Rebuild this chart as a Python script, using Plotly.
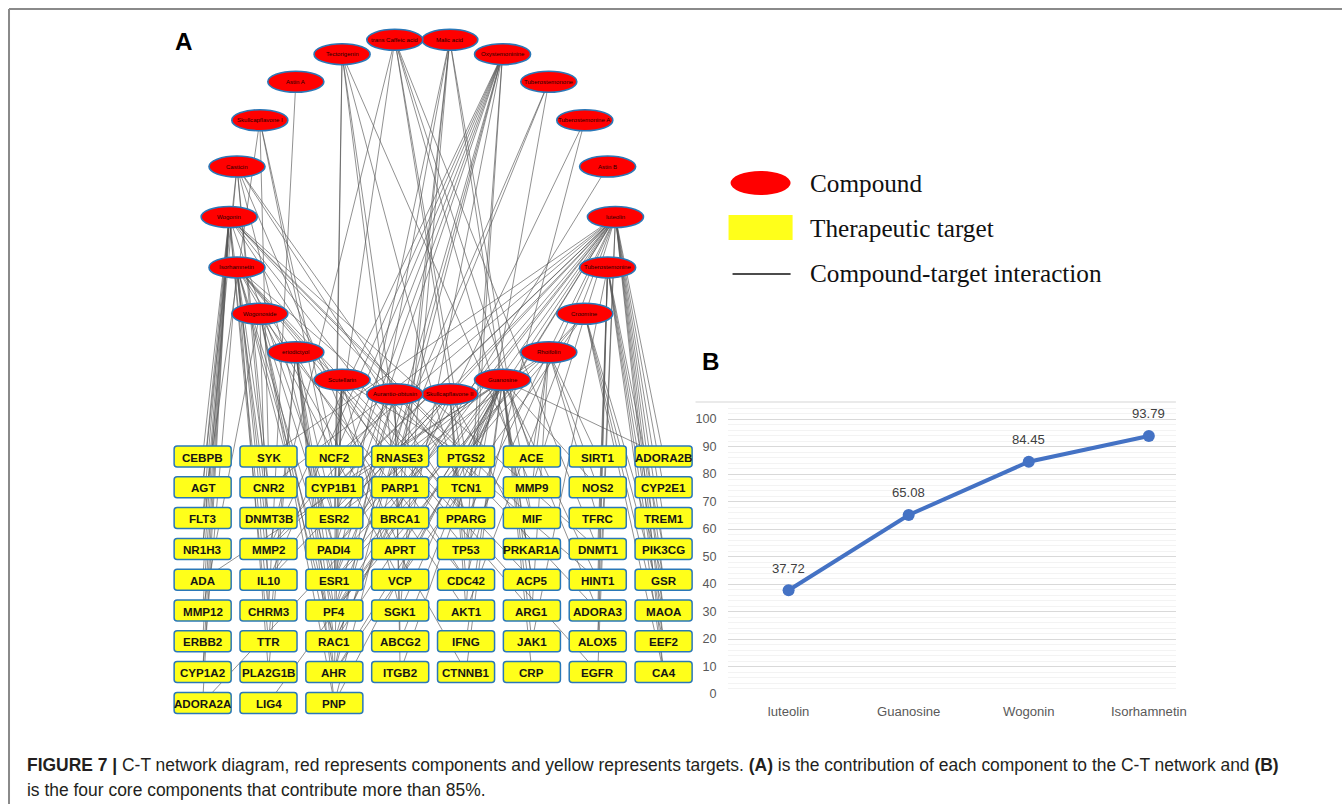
import math
import plotly.graph_objects as go

# ---------------- data ----------------
# Compounds, clockwise around the ring starting just right of the top
compounds = [
    "Malic acid", "Oxystemoninine", "Tuberostemonone", "Tuberostemonine A",
    "Astin B", "luteolin", "Tuberostemonine", "Croomine", "Rhoifolin",
    "Guanosine", "Skullcapflavone II", "Aurantio-obtusin", "Scutellarin",
    "eriodictyol", "Wogonoside", "Isorhamnetin", "Wogonin", "Casticin",
    "Skullcapflavone I", "Astin A", "Tectorigenin", "trans Caffeic acid",
]

# Therapeutic targets, row by row
targets = [
    "CEBPB", "SYK", "NCF2", "RNASE3", "PTGS2", "ACE", "SIRT1", "ADORA2B",
    "AGT", "CNR2", "CYP1B1", "PARP1", "TCN1", "MMP9", "NOS2", "CYP2E1",
    "FLT3", "DNMT3B", "ESR2", "BRCA1", "PPARG", "MIF", "TFRC", "TREM1",
    "NR1H3", "MMP2", "PADI4", "APRT", "TP53", "PRKAR1A", "DNMT1", "PIK3CG",
    "ADA", "IL10", "ESR1", "VCP", "CDC42", "ACP5", "HINT1", "GSR",
    "MMP12", "CHRM3", "PF4", "SGK1", "AKT1", "ARG1", "ADORA3", "MAOA",
    "ERBB2", "TTR", "RAC1", "ABCG2", "IFNG", "JAK1", "ALOX5", "EEF2",
    "CYP1A2", "PLA2G1B", "AHR", "ITGB2", "CTNNB1", "CRP", "EGFR", "CA4",
    "ADORA2A", "LIG4", "PNP",
]

# Targets linked to each compound (same order as `compounds`)
compound_targets = [
    "PARP1 BRCA1 MIF ACP5 SGK1 ESR1 AHR",
    "NCF2 CYP1B1 ESR2 PADI4 RAC1 AHR PNP MMP2 IL10 VCP TP53 AKT1",
    "ESR1 PF4 TP53",
    "CDC42 RAC1",
    "PF4",
    "SYK NCF2 CYP1B1 ESR2 PADI4 ESR1 PF4 RAC1 AHR PTGS2 PPARG TP53 AKT1 EGFR "
    "CA4 EEF2 ALOX5 MAOA GSR PIK3CG TREM1 CYP2E1 ADORA2B MMP9 PARP1 MMP2 IL10 CNR2",
    "ADORA3 HINT1 DNMT1 JAK1 ALOX5 GSR MAOA EEF2 CA4 PIK3CG",
    "MAOA EEF2 CA4 GSR ESR1 PF4 AHR",
    "ACE MMP9 SIRT1 NOS2 TFRC ARG1 CYP1B1 ESR2",
    "RNASE3 PTGS2 TCN1 APRT ADA PNP ACP5 ARG1 JAK1 CRP ITGB2 CTNNB1 IFNG ABCG2 "
    "SGK1 VCP HINT1 ADORA3 ADORA2A ADORA2B LIG4 NOS2",
    "PRKAR1A CDC42 TP53 AKT1 ESR2 PADI4 RAC1",
    "MMP2 IL10 ABCG2 ITGB2 ESR1 PF4",
    "CYP1B1 ESR1 PF4 SGK1 AHR NCF2 PTGS2",
    "TTR PLA2G1B RAC1 ESR2 ESR1 PF4 AHR PNP",
    "CHRM3 MMP12 PADI4 AHR PNP RAC1 VCP CDC42",
    "CNR2 MMP2 IL10 ESR1 PF4 RAC1 CYP1A2 PLA2G1B TP53 EGFR AKT1 CTNNB1 ACP5 "
    "HINT1 ARG1",
    "CEBPB AGT FLT3 NR1H3 ADA MMP12 ERBB2 CYP1A2 ADORA2A DNMT3B CHRM3 TTR "
    "PTGS2 ESR2 CDC42 PPARG MIF DNMT1 ADORA3",
    "AGT NR1H3 DNMT3B CNR2 PADI4 TCN1 PPARG APRT",
    "FLT3 SYK NCF2 CYP1B1",
    "CHRM3",
    "ESR1 ESR2 PPARG RNASE3 MMP9 BRCA1",
    "MMP2 NCF2 TCN1 PTGS2 MIF DNMT1 ACE",
]

# Panel B: cumulative contribution of the core components (%)
core_names = ["luteolin", "Guanosine", "Wogonin", "Isorhamnetin"]
core_values = [37.72, 65.08, 84.45, 93.79]

legend_labels = ["Compound", "Therapeutic target", "Compound-target interaction"]

caption_line1 = ("<b>FIGURE 7 |</b> C-T network diagram, red represents components and yellow "
                 "represents targets. <b>(A)</b> is the contribution of each component to the "
                 "C-T network and <b>(B)</b>")
caption_line2 = "is the four core components that contribute more than 85%."

# ---------------- canvas ----------------
# Drawing is laid out on a 1342 x 804 unit canvas; S converts units to CSS px.
W, H = 1342, 804
S = 1354 / 1342
SANS = "Liberation Sans, Arial, sans-serif"
SERIF = "Liberation Serif, Times New Roman, serif"


def fs(size):
    return round(size * S, 2)


ring_cx, ring_cy, ring_rx, ring_ry = 422, 217, 193, 179
node_rx, node_ry = 28, 10.5
n_c = len(compounds)
comp_pos = {}
for i, name in enumerate(compounds):
    t = math.radians((i + 0.5) * 360.0 / n_c)
    comp_pos[name] = (ring_cx + ring_rx * math.sin(t), ring_cy - ring_ry * math.cos(t))

grid_x0, grid_dx, grid_y0, grid_dy, n_cols = 202.5, 65.8, 456.5, 30.8, 8
box_w, box_h = 57, 21
targ_pos = {}
for k, name in enumerate(targets):
    targ_pos[name] = (grid_x0 + (k % n_cols) * grid_dx, grid_y0 + (k // n_cols) * grid_dy)

fig = go.Figure()

# edges
ex, ey = [], []
for comp, tlist in zip(compounds, compound_targets):
    cx, cy = comp_pos[comp]
    for t in tlist.split():
        tx, ty = targ_pos[t]
        ex += [cx, tx, None]
        ey += [cy, ty, None]
fig.add_trace(go.Scatter(x=ex, y=ey, mode="lines", hoverinfo="skip", showlegend=False,
                         line=dict(color="rgba(85,85,85,0.72)", width=0.9),
                         xaxis="x", yaxis="y"))

shapes, annos = [], []


def rounded_rect(x0, y0, x1, y1, r):
    return (f"M{x0+r},{y0} L{x1-r},{y0} Q{x1},{y0} {x1},{y0+r} L{x1},{y1-r} "
            f"Q{x1},{y1} {x1-r},{y1} L{x0+r},{y1} Q{x0},{y1} {x0},{y1-r} "
            f"L{x0},{y0+r} Q{x0},{y0} {x0+r},{y0} Z")


# compound nodes
for name, (cx, cy) in comp_pos.items():
    shapes.append(dict(type="circle", xref="x", yref="y", layer="above",
                       x0=cx - node_rx, x1=cx + node_rx, y0=cy - node_ry, y1=cy + node_ry,
                       fillcolor="#ff0000", line=dict(color="#2a78b8", width=1.6)))
    annos.append(dict(x=cx, y=cy, xref="x", yref="y", text=name, showarrow=False,
                      font=dict(family=SANS, size=fs(6), color="#1a0000")))

# target nodes
for name, (tx, ty) in targ_pos.items():
    shapes.append(dict(type="path", xref="x", yref="y", layer="above",
                       path=rounded_rect(tx - box_w / 2, ty - box_h / 2,
                                         tx + box_w / 2, ty + box_h / 2, 3),
                       fillcolor="#ffff1a", line=dict(color="#2a78b8", width=1.5)))
    annos.append(dict(x=tx, y=ty + 0.5, xref="x", yref="y", text=f"<b>{name}</b>",
                      showarrow=False, font=dict(family=SANS, size=fs(11.5), color="#151515")))

# legend of panel A
shapes.append(dict(type="circle", xref="x", yref="y", layer="above",
                   x0=730, x1=790, y0=171, y1=195, fillcolor="#ff0000", line=dict(width=0)))
shapes.append(dict(type="rect", xref="x", yref="y", layer="above",
                   x0=728, x1=792, y0=215, y1=240, fillcolor="#ffff1a", line=dict(width=0)))
shapes.append(dict(type="line", xref="x", yref="y", layer="above",
                   x0=732, x1=790, y0=274, y1=274, line=dict(color="#111111", width=1.3)))
for lbl, ly in zip(legend_labels, [183, 228, 273]):
    annos.append(dict(x=807, y=ly, xref="x", yref="y", text=lbl, showarrow=False,
                      xanchor="left", yanchor="middle",
                      font=dict(family=SERIF, size=fs(25), color="#111111")))

# panel letters
annos.append(dict(x=183, y=41, xref="x", yref="y", text="<b>A</b>", showarrow=False,
                  font=dict(family=SANS, size=fs(24), color="#000000")))
annos.append(dict(x=710, y=361, xref="x", yref="y", text="<b>B</b>", showarrow=False,
                  font=dict(family=SANS, size=fs(24), color="#000000")))

# caption
annos.append(dict(x=25, y=765, xref="x", yref="y", text=caption_line1, showarrow=False,
                  xanchor="left", yanchor="middle",
                  font=dict(family=SANS, size=fs(17.3), color="#231f20")))
annos.append(dict(x=25, y=790, xref="x", yref="y", text=caption_line2, showarrow=False,
                  xanchor="left", yanchor="middle",
                  font=dict(family=SANS, size=fs(17.3), color="#231f20")))

# outer frame (top and left edges)
shapes.append(dict(type="line", xref="x", yref="y", x0=9, x1=W, y0=9, y1=9,
                   line=dict(color="#8a8a8a", width=2)))
shapes.append(dict(type="line", xref="x", yref="y", x0=9, x1=9, y0=9, y1=H,
                   line=dict(color="#8a8a8a", width=2)))

# ---------------- panel B ----------------
bx0, bx1 = 727, 1175          # plot area, canvas units
by_bottom, by_top = 694, 402
px_per_cat = 120
first_cat_px = 788
px_per_unit = 2.75
x_range = [-(first_cat_px - bx0) / px_per_cat, 3 + (bx1 - (first_cat_px + 3 * px_per_cat)) / px_per_cat]
y_top_val = (by_bottom - by_top) / px_per_unit

idx = list(range(len(core_names)))
fig.add_trace(go.Scatter(x=idx, y=core_values, mode="lines+markers", showlegend=False,
                         hoverinfo="skip", xaxis="x2", yaxis="y2",
                         line=dict(color="#4472c4", width=4),
                         marker=dict(color="#4472c4", size=12)))
for i, v in zip(idx, core_values):
    annos.append(dict(x=i, y=v, xref="x2", yref="y2", text=f"{v:.2f}", showarrow=False,
                      yshift=22 * S, font=dict(family=SANS, size=fs(13), color="#404040")))

# top border of the chart area
shapes.append(dict(type="line", xref="paper", yref="paper",
                   x0=695 / W, x1=bx1 / W, y0=1 - by_top / H, y1=1 - by_top / H,
                   line=dict(color="#e3e3e3", width=1.5)))

fig.update_layout(
    width=round(W * S), height=round(H * S), margin=dict(l=0, r=0, t=0, b=0),
    paper_bgcolor="white", plot_bgcolor="rgba(0,0,0,0)",
    shapes=shapes, annotations=annos, showlegend=False,
    xaxis=dict(range=[0, W], domain=[0, 1], visible=False, fixedrange=True),
    yaxis=dict(range=[H, 0], domain=[0, 1], visible=False, fixedrange=True),
    xaxis2=dict(domain=[bx0 / W, bx1 / W], anchor="y2", range=x_range,
                tickvals=idx, ticktext=core_names, showgrid=False, zeroline=False,
                showline=False, ticks="", ticklabelstandoff=8,
                tickfont=dict(family=SANS, size=fs(13), color="#595959")),
    yaxis2=dict(domain=[1 - by_bottom / H, 1 - by_top / H], anchor="x2",
                range=[0, y_top_val], tickvals=list(range(0, 101, 10)),
                showgrid=True, gridcolor="#d9d9d9", gridwidth=1.2, zeroline=False,
                showline=False, ticks="", ticklabelstandoff=10,
                tickfont=dict(family=SANS, size=fs(12.5), color="#595959"),
                minor=dict(dtick=2, showgrid=True, gridcolor="#f3f3f3", gridwidth=1)),
)

fig.write_html("out.html", config={"displayModeBar": False})
